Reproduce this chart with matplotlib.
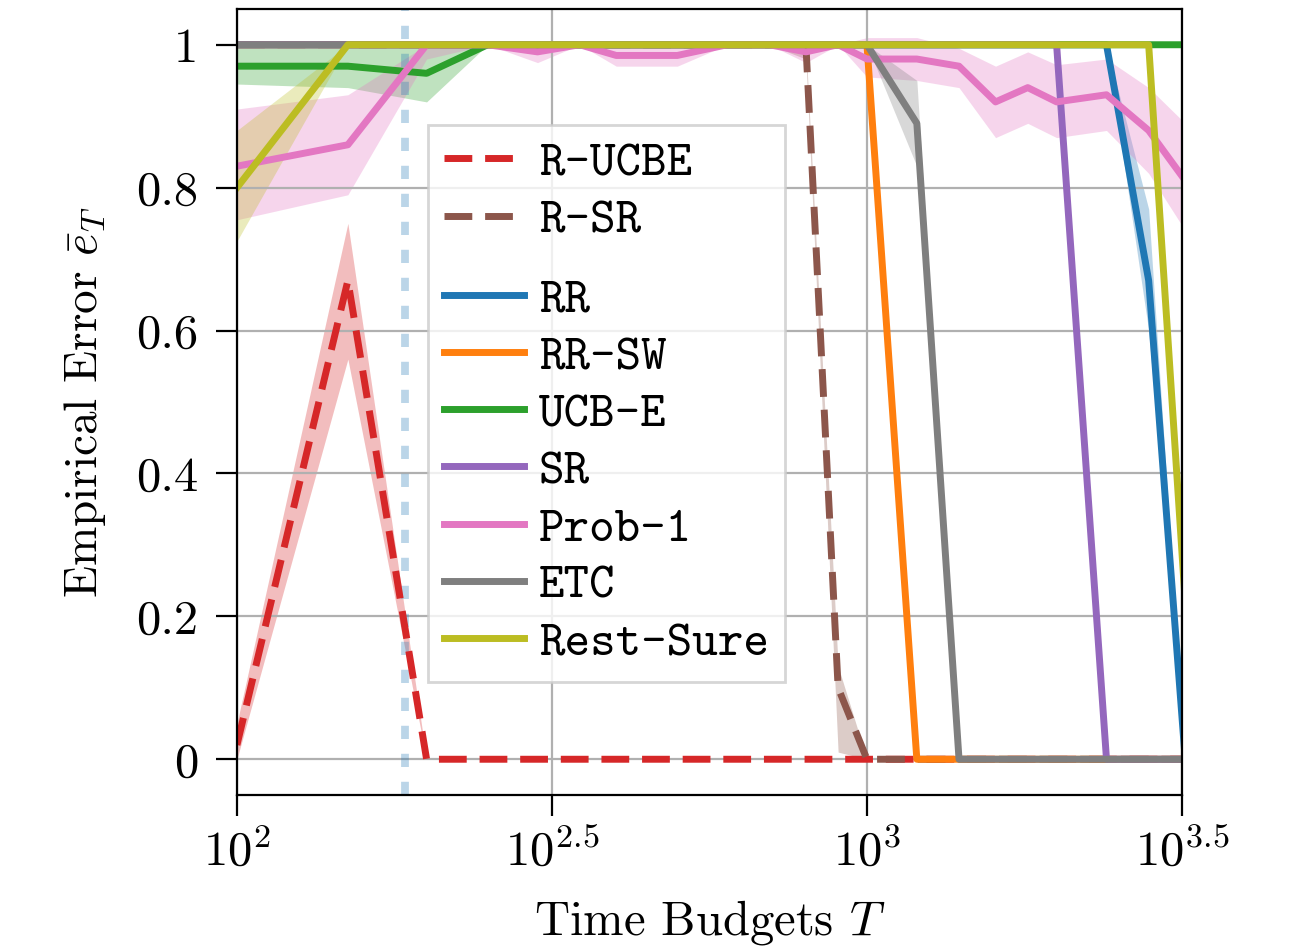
import matplotlib
matplotlib.use("Agg")
import matplotlib.pyplot as plt
from matplotlib.lines import Line2D

plt.rcParams['font.family'] = 'serif'
plt.rcParams['font.serif'] = ['cmr10']
plt.rcParams['mathtext.fontset'] = 'cm'
plt.rcParams['axes.unicode_minus'] = False
plt.rcParams['axes.formatter.use_mathtext'] = True

# time budgets
budgets = [100, 150, 200, 250, 300, 350, 400, 450, 500, 600, 700, 800, 900,
           1000, 1200, 1400, 1600, 1800, 2000, 2400, 2800, 3200]

r_ucbe = [0.02, 0.67] + [0.0] * 20
r_ucbe_lo = [0.0, 0.56] + [0.0] * 20
r_ucbe_hi = [0.05, 0.75] + [0.0] * 20

r_sr = [1.0] * 12 + [0.10] + [0.0] * 9
r_sr_lo = [1.0] * 11 + [0.98, 0.01] + [0.0] * 9
r_sr_hi = [1.0] * 12 + [0.13] + [0.0] * 9

rr = [1.0] * 20 + [0.67, 0.0]
rr_lo = [1.0] * 20 + [0.60, 0.0]
rr_hi = [1.0] * 20 + [0.77, 0.0]

rr_sw = [1.0] * 14 + [0.0] * 8

ucb_e = [0.97, 0.97, 0.96] + [1.0] * 19
ucb_e_lo = [0.945, 0.94, 0.92] + [1.0] * 19
ucb_e_hi = [1.0] * 22

sr = [1.0] * 19 + [0.0] * 3

prob1 = [0.83, 0.86, 1.0, 1.0, 0.99, 1.0, 0.985, 0.985, 0.985, 1.0, 1.0, 0.99,
         1.0, 0.98, 0.98, 0.97, 0.92, 0.94, 0.92, 0.93, 0.88, 0.81]
prob1_lo = [0.755, 0.79, 0.98, 1.0, 0.975, 1.0, 0.97, 0.97, 0.97, 1.0, 1.0, 0.975,
            1.0, 0.955, 0.95, 0.94, 0.87, 0.89, 0.87, 0.88, 0.82, 0.74]
prob1_hi = [0.91, 0.93, 1.0, 1.0, 1.005, 1.0, 1.0, 1.0, 1.0, 1.0, 1.0, 1.005,
            1.0, 1.01, 1.01, 0.995, 0.97, 0.99, 0.972, 0.98, 0.94, 0.89]

etc = [1.0] * 14 + [0.89] + [0.0] * 7
etc_lo = [1.0] * 14 + [0.83] + [0.0] * 7
etc_hi = [1.0] * 14 + [0.95] + [0.0] * 7

rest_sure = [0.80] + [1.0] * 20 + [0.22]
rest_sure_lo = [0.725] + [1.0] * 20 + [0.22]
rest_sure_hi = [0.88] + [1.0] * 20 + [0.22]

threshold = 185

fig = plt.figure(figsize=(6.495, 4.745), dpi=200)
ax = fig.add_axes([0.1824, 0.1623, 0.7275, 0.8282])
lw = 2.5
a = 0.3
dashed = (0, (4.0, 1.85))

ax.axvline(threshold, color='tab:blue', alpha=0.3, lw=2.8, linestyle=(0, (1.7, 1.9)))

h1, = ax.plot(budgets, r_ucbe, linestyle=dashed, color='tab:red', lw=lw, label='R-UCBE')
ax.fill_between(budgets, r_ucbe_lo, r_ucbe_hi, color='tab:red', alpha=a, lw=0)
h2, = ax.plot(budgets, r_sr, linestyle=dashed, color='tab:brown', lw=lw, label='R-SR')
ax.fill_between(budgets, r_sr_lo, r_sr_hi, color='tab:brown', alpha=a, lw=0)

h3, = ax.plot(budgets, rr, color='tab:blue', lw=lw, label='RR')
ax.fill_between(budgets, rr_lo, rr_hi, color='tab:blue', alpha=a, lw=0)
h4, = ax.plot(budgets, rr_sw, color='tab:orange', lw=lw, label='RR-SW')
h5, = ax.plot(budgets, ucb_e, color='tab:green', lw=lw, label='UCB-E')
ax.fill_between(budgets, ucb_e_lo, ucb_e_hi, color='tab:green', alpha=a, lw=0)
h6, = ax.plot(budgets, sr, color='tab:purple', lw=lw, label='SR')
h7, = ax.plot(budgets, prob1, color='tab:pink', lw=lw, label='Prob-1')
ax.fill_between(budgets, prob1_lo, prob1_hi, color='tab:pink', alpha=a, lw=0)
h8, = ax.plot(budgets, etc, color='tab:gray', lw=lw, label='ETC')
ax.fill_between(budgets, etc_lo, etc_hi, color='tab:gray', alpha=a, lw=0)
h9, = ax.plot(budgets, rest_sure, color='tab:olive', lw=lw, label='Rest-Sure')
ax.fill_between(budgets, rest_sure_lo, rest_sure_hi, color='tab:olive', alpha=a, lw=0)

ax.set_xscale('log')
ax.set_xlim(100, 10 ** 3.5)
ax.set_ylim(-0.05, 1.05)
ax.minorticks_off()
ax.set_xticks([100, 10 ** 2.5, 1000, 10 ** 3.5],
              [r'$10^{2}$', r'$10^{2.5}$', r'$10^{3}$', r'$10^{3.5}$'])
ax.set_yticks([0, 0.2, 0.4, 0.6, 0.8, 1.0], ['0', '0.2', '0.4', '0.6', '0.8', '1'])
ax.tick_params(axis='both', labelsize=17.5, length=7.5, width=0.8)
ax.tick_params(axis='x', pad=5)
ax.tick_params(axis='y', pad=6.5)
ax.grid(True, color='#b0b0b0', lw=0.8)

ax.set_xlabel(r'Time Budgets $T$', fontsize=17.5, labelpad=8)
ax.set_ylabel(r'Empirical Error $\bar{e}_T$', fontsize=17, labelpad=10)

blank = Line2D([], [], linestyle='none')
leg = ax.legend([h1, h2, blank, h3, h4, h5, h6, h7, h8, h9],
                ['R-UCBE', 'R-SR', ' ', 'RR', 'RR-SW', 'UCB-E', 'SR', 'Prob-1', 'ETC', 'Rest-Sure'],
                loc='upper left', bbox_to_anchor=(0.202, 0.852), borderaxespad=0,
                prop={'family': 'cmtt10', 'size': 17.5}, handlelength=1.65,
                handletextpad=0.3, labelspacing=0.25, borderpad=0.33,
                fancybox=False, edgecolor='#cccccc')
# shrink the spacer row to about half a line
rows = leg._legend_handle_box.get_children()[0].get_children()
rows[2].get_children()[0].height = 3.6
rows[2].get_children()[1]._text.set_fontsize(1)

fig.savefig('out.png', dpi=200)
